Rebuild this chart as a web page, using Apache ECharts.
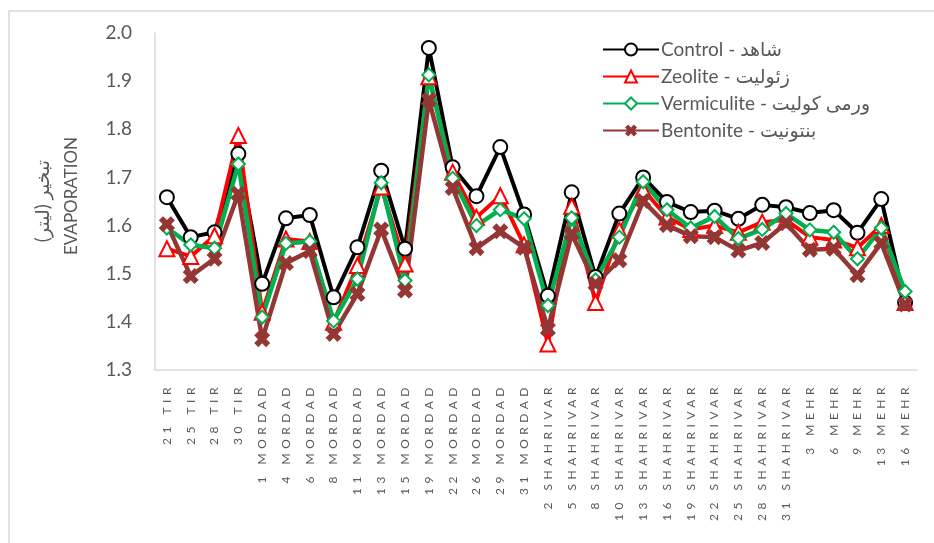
<!DOCTYPE html>
<html>
<head>
<meta charset="utf-8">
<script src="https://cdn.jsdelivr.net/npm/echarts@6/dist/echarts.min.js"></script>
<style>
html,body{margin:0;padding:0;background:#fff;}
#chart{width:934px;height:543px;}
</style>
</head>
<body>
<div id="chart"></div>
<script>
const categories = ["21 TIR","25 TIR","28 TIR","30 TIR","1 MORDAD","4 MORDAD","6 MORDAD","8 MORDAD","11 MORDAD","13 MORDAD","15 MORDAD","19 MORDAD","22 MORDAD","26 MORDAD","29 MORDAD","31 MORDAD","2 SHAHRIVAR","5 SHAHRIVAR","8 SHAHRIVAR","10 SHAHRIVAR","13 SHAHRIVAR","16 SHAHRIVAR","19 SHAHRIVAR","22 SHAHRIVAR","25 SHAHRIVAR","28 SHAHRIVAR","31 SHAHRIVAR","3 MEHR","6 MEHR","9 MEHR","13 MEHR","16 MEHR"];
const control = [1.659,1.576,1.586,1.749,1.479,1.615,1.622,1.451,1.555,1.714,1.552,1.969,1.721,1.661,1.763,1.623,1.454,1.669,1.493,1.625,1.700,1.649,1.628,1.631,1.614,1.643,1.638,1.626,1.632,1.585,1.655,1.440];
const zeolite = [1.552,1.536,1.579,1.787,1.420,1.572,1.567,1.399,1.517,1.680,1.520,1.909,1.711,1.617,1.662,1.560,1.354,1.640,1.440,1.590,1.675,1.618,1.592,1.600,1.586,1.607,1.612,1.576,1.570,1.554,1.600,1.440];
const vermiculite = [1.595,1.560,1.553,1.728,1.410,1.563,1.567,1.402,1.489,1.689,1.486,1.913,1.698,1.600,1.633,1.614,1.434,1.616,1.487,1.576,1.691,1.633,1.595,1.619,1.573,1.592,1.625,1.591,1.586,1.531,1.595,1.463];
const bentonite = [1.603,1.495,1.531,1.666,1.364,1.522,1.547,1.375,1.458,1.592,1.465,1.861,1.678,1.553,1.588,1.554,1.385,1.583,1.479,1.528,1.651,1.601,1.578,1.576,1.548,1.564,1.605,1.550,1.552,1.497,1.564,1.436];
const seriesNames = ["Control - شاهد","Zeolite - زئولیت","Vermiculite - ورمی کولیت","Bentonite - بنتونیت"];
const yTicks = [1.3,1.4,1.5,1.6,1.7,1.8,1.9,2.0];
const yTitleFa = "تبخیر (لیتر)";
const yTitleEn = "EVAPORATION";

// wider character spacing only for the category labels, as in the reference
const catSet = new Set(categories);
const origFill = CanvasRenderingContext2D.prototype.fillText;
CanvasRenderingContext2D.prototype.fillText = function(t, x, y, m) {
  if ('letterSpacing' in this) {
    this.letterSpacing = catSet.has(t) ? '4.5px' : '0px';
  }
  if (m === undefined) origFill.call(this, t, x, y); else origFill.call(this, t, x, y, m);
  if ('letterSpacing' in this) this.letterSpacing = '0px';
};

const FONT = 'Lato, "DejaVu Sans", sans-serif';
const GRAY = '#595959';
const AXIS = '#D9D9D9';
const xPath = 'path://M0,2.6 L2.6,0 L5,2.4 L7.4,0 L10,2.6 L7.6,5 L10,7.4 L7.4,10 L5,7.6 L2.6,10 L0,7.4 L2.4,5 Z';

const chart = echarts.init(document.getElementById('chart'), null, {renderer: 'canvas'});
chart.setOption({
  animation: false,
  backgroundColor: '#fff',
  textStyle: {fontFamily: FONT},
  grid: {left: 155, right: 17, top: 33, bottom: 173, containLabel: false},
  graphic: [
    {type: 'polyline', shape: {points: [[9, 543], [9, 11], [934, 11]]}, style: {stroke: AXIS, lineWidth: 1.5, fill: null}, silent: true},
    {type: 'text', x: 43, y: 201, rotation: Math.PI / 2, style: {text: yTitleFa, fontSize: 19, fontFamily: FONT, fill: GRAY, align: 'center', verticalAlign: 'middle'}},
    {type: 'text', x: 72, y: 196, rotation: Math.PI / 2, style: {text: yTitleEn, fontSize: 17, fontFamily: FONT, fill: GRAY, align: 'center', verticalAlign: 'middle'}}
  ],
  legend: {
    data: seriesNames,
    orient: 'vertical',
    left: 602,
    top: 40,
    padding: 0,
    itemWidth: 56,
    itemHeight: 15,
    itemGap: 8,
    textStyle: {fontSize: 19, color: GRAY, fontFamily: FONT, lineHeight: 19, padding: [0, 0, 0, -3]}
  },
  xAxis: {
    type: 'category',
    data: categories,
    boundaryGap: true,
    axisLine: {show: true, lineStyle: {color: AXIS, width: 1.5}},
    axisTick: {show: false},
    splitLine: {show: false},
    axisLabel: {rotate: 90, interval: 0, fontSize: 12, color: GRAY, margin: 13, fontFamily: FONT}
  },
  yAxis: {
    type: 'value',
    min: yTicks[0],
    max: yTicks[yTicks.length - 1],
    interval: 0.1,
    axisLine: {show: true, lineStyle: {color: AXIS, width: 1.5}},
    axisTick: {show: false},
    splitLine: {show: false},
    axisLabel: {fontSize: 19, color: GRAY, margin: 23, fontFamily: FONT, formatter: v => v.toFixed(1)}
  },
  series: [
    {name: seriesNames[0], type: 'line', data: control, symbol: 'emptyCircle', symbolSize: 14,
     lineStyle: {color: '#000000', width: 4}, itemStyle: {color: '#000000', borderColor: '#000000', borderWidth: 3.4}},
    {name: seriesNames[1], type: 'line', data: zeolite, symbol: 'emptyTriangle', symbolSize: 15,
     lineStyle: {color: '#FF0000', width: 4}, itemStyle: {color: '#FF0000', borderColor: '#FF0000', borderWidth: 3.2}},
    {name: seriesNames[2], type: 'line', data: vermiculite, symbol: 'emptyDiamond', symbolSize: 13,
     lineStyle: {color: '#00B050', width: 4.5}, itemStyle: {color: '#00B050', borderColor: '#00B050', borderWidth: 2.5}},
    {name: seriesNames[3], type: 'line', data: bentonite, symbol: xPath, symbolSize: 16,
     lineStyle: {color: '#943634', width: 4.5}, itemStyle: {color: '#943634', borderWidth: 0}}
  ]
});
</script>
</body>
</html>
